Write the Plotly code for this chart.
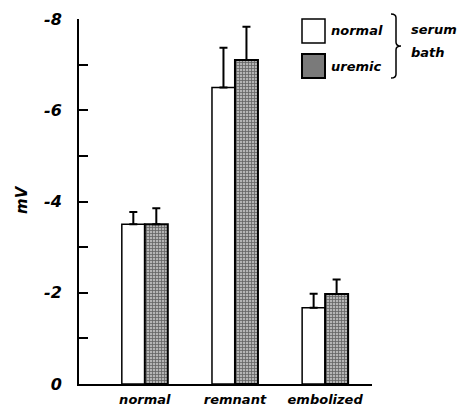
import plotly.graph_objects as go

categories = ["normal", "remnant", "embolized"]
normal_bath = [-3.5, -6.5, -1.67]
normal_err = [0.27, 0.87, 0.31]
uremic_bath = [-3.5, -7.1, -1.97]
uremic_err = [0.35, 0.73, 0.32]
tick_vals = [-8, -7, -6, -5, -4, -3, -2, -1, 0]
tick_text = ["-8", "", "-6", "", "-4", "", "-2", "", "0"]

FONT = dict(family="DejaVu Sans", color="black", weight="bold", style="italic")

fig = go.Figure()
fig.add_trace(go.Bar(
    x=categories, y=normal_bath, name="normal",
    marker=dict(color="white", line=dict(color="black", width=1.5)),
    error_y=dict(type="data", symmetric=False, array=[0, 0, 0], arrayminus=normal_err,
                 color="black", thickness=2, width=4),
))
fig.add_trace(go.Bar(
    x=categories, y=uremic_bath, name="uremic",
    marker=dict(color="#7f7f7f", line=dict(color="black", width=2),
                pattern=dict(shape="+", fgcolor="#111111", bgcolor="#b4b4b4", size=3, solidity=0.45)),
    error_y=dict(type="data", symmetric=False, array=[0, 0, 0], arrayminus=uremic_err,
                 color="black", thickness=2, width=4),
))

OFF = 8  # page body margin
W, H = 466 - OFF, 409 - OFF
L, R, T, B = 79 - OFF, W - (372 - OFF), 19 - OFF, H - (384 - OFF)
pw, ph = W - L - R, H - T - B

def px(x):
    return (x - OFF - L) / pw

def py(y):
    return (H - B - (y - OFF)) / ph

shapes = [
    dict(type="rect", xref="paper", yref="paper", x0=px(302), x1=px(325), y0=py(43), y1=py(19),
         line=dict(color="black", width=1.5), fillcolor="white"),
    dict(type="rect", xref="paper", yref="paper", x0=px(302), x1=px(325), y0=py(78), y1=py(54),
         line=dict(color="black", width=2), fillcolor="#7a7a7a"),
]
bx0, bx1, bx2 = px(391), px(396), px(401)
yt, ym, yb = py(14), py(46), py(78)
r = (yt - ym) * 0.12
brace = (f"M {bx0},{yt} Q {bx1},{yt} {bx1},{yt - r} L {bx1},{ym + r} "
         f"Q {bx1},{ym} {bx2},{ym} Q {bx1},{ym} {bx1},{ym - r} "
         f"L {bx1},{yb + r} Q {bx1},{yb} {bx0},{yb}")
shapes.append(dict(type="path", xref="paper", yref="paper", path=brace,
                   line=dict(color="black", width=1.5)))

annotations = [
    dict(text="normal", x=px(329), y=py(31), xref="paper", yref="paper", xanchor="left",
         yanchor="middle", showarrow=False, font=dict(size=13, **FONT)),
    dict(text="uremic", x=px(329), y=py(66), xref="paper", yref="paper", xanchor="left",
         yanchor="middle", showarrow=False, font=dict(size=13, **FONT)),
    dict(text="serum", x=px(409), y=py(29), xref="paper", yref="paper", xanchor="left",
         yanchor="middle", showarrow=False, font=dict(size=13, **FONT)),
    dict(text="bath", x=px(409), y=py(53), xref="paper", yref="paper", xanchor="left",
         yanchor="middle", showarrow=False, font=dict(size=13, **FONT)),
    dict(text="mV", x=px(22), y=py(200), xref="paper", yref="paper", xanchor="center",
         yanchor="middle", showarrow=False, textangle=-90, font=dict(size=15, **FONT)),
]

fig.update_layout(
    width=W, height=H,
    margin=dict(l=L, r=R, t=T, b=B, autoexpand=False),
    paper_bgcolor="white", plot_bgcolor="white",
    barmode="group", bargap=0.49, bargroupgap=0,
    showlegend=False,
    shapes=shapes, annotations=annotations,
    xaxis=dict(range=[-0.73, 2.52], showline=True, linecolor="black", linewidth=2,
               showgrid=False, ticks="", tickfont=dict(size=13, **FONT), zeroline=False,
               ticklabelstandoff=2),
    yaxis=dict(range=[0, -8], tickvals=tick_vals, ticktext=tick_text, showline=True,
               linecolor="black", linewidth=2, ticks="inside", ticklen=9, tickwidth=2,
               tickcolor="black", showgrid=False, zeroline=False,
               tickfont=dict(size=16, **FONT), ticklabelstandoff=12),
)

fig.write_html("out.html")
